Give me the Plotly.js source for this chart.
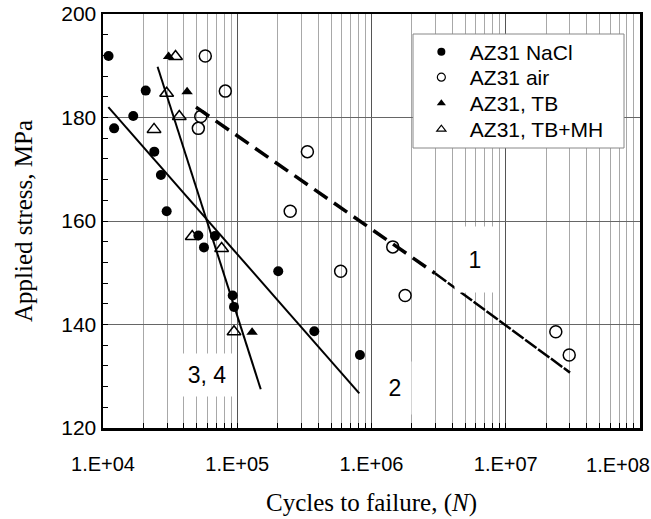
<!DOCTYPE html>
<html>
<head>
<meta charset="utf-8">
<script src="https://cdn.plot.ly/plotly-3.0.1.min.js"></script>
<style>html,body{margin:0;padding:0;background:#fff;}#chart{width:651px;height:519px;}</style>
</head>
<body>
<div id="chart"></div>
<script>
// ---- Data ----
// AZ31 NaCl (filled circles)
var naclN = [11000, 12100, 16800, 20800, 24100, 27000, 29800, 51300, 56500, 68200, 92500, 94600, 202000, 375000, 820000];
var naclS = [191.9, 177.9, 180.3, 185.2, 173.4, 168.9, 161.9, 157.2, 154.9, 157.1, 145.6, 143.4, 150.3, 138.7, 134.1];
// AZ31 air (open circles)
var airN = [57800, 81500, 53500, 51300, 333000, 248000, 1440000, 589000, 1780000, 23600000, 29700000];
var airS = [191.9, 185.1, 180.2, 177.9, 173.4, 161.9, 155.0, 150.3, 145.6, 138.6, 134.1];
// AZ31, TB (filled triangles)
var tbN = [30800, 42300, 129000];
var tbS = [191.8, 185.0, 138.5];
// AZ31, TB+MH (open triangles)
var tbmhN = [34700, 29800, 37000, 24000, 46200, 76500, 94600];
var tbmhS = [191.8, 184.7, 180.2, 177.7, 157.0, 154.7, 138.6];
// Fitted lines
var line1aN = [49300, 2970000];
var line1aS = [182.0, 149.9];
var line1bN = [2970000, 30100000];
var line1bS = [149.9, 130.7];
var line2N = [10965, 811000];
var line2S = [182.0, 126.7];
var line34N = [25500, 149600];
var line34S = [189.8, 127.5];
// Series names
var seriesNames = ['AZ31 NaCl', 'AZ31 air', 'AZ31, TB', 'AZ31, TB+MH'];
// Axis tick labels
var xTickVals = [1e4, 1e5, 1e6, 1e7];
var xTickText = ['1.E+04', '1.E+05', '1.E+06', '1.E+07'];
var xLastTickVal = [1e8];
var xLastTickText = ['1.E+08'];
var yTickVals = [120, 140, 160, 180, 200];
// Line labels
var lineLabels = ['1', '2', '3, 4'];
var lineLabelN = [5900000, 1500000, 59200];
var lineLabelS = [152.5, 127.7, 130.2];

var minorVals = [];
for (var d = 4; d < 8; d++) {
  for (var k = 2; k <= 9; k++) minorVals.push(k * Math.pow(10, d));
}

var sans = 'Liberation Sans, Arial, sans-serif';
var serif = 'Liberation Serif, Times New Roman, serif';

var lineStyle = {color: '#000', width: 2};
var legendSyms = [
  {symbol: 'circle', size: 8, color: '#000'},
  {symbol: 'circle-open', size: 8, color: '#000', line: {width: 1.2}},
  {symbol: 'triangle-up', size: 8, color: '#000'},
  {symbol: 'triangle-up-open', size: 8, color: '#000', line: {width: 1.2}}
];
var legendIds = ['legend', 'legend2', 'legend3', 'legend4'];

var traces = [
  {x: line2N, y: line2S, mode: 'lines', line: lineStyle, showlegend: false, hoverinfo: 'skip'},
  {x: line34N, y: line34S, mode: 'lines', line: lineStyle, showlegend: false, hoverinfo: 'skip'},
  {x: line1aN, y: line1aS, mode: 'lines', line: {color: '#000', width: 3.5, dash: '16px,8px'}, showlegend: false, hoverinfo: 'skip'},
  {x: line1bN, y: line1bS, mode: 'lines', line: {color: '#000', width: 2.5, dash: '14px,2px'}, showlegend: false, hoverinfo: 'skip'},
  {x: naclN, y: naclS, mode: 'markers', name: seriesNames[0], marker: {symbol: 'circle', size: 10, color: '#000'}, showlegend: false},
  {x: airN, y: airS, mode: 'markers', name: seriesNames[1], marker: {symbol: 'circle-open', size: 12, color: '#000', line: {width: 1.5}}, showlegend: false},
  {x: tbN, y: tbS, mode: 'markers', name: seriesNames[2], marker: {symbol: 'triangle-up', size: 10, color: '#000'}, showlegend: false},
  {x: tbmhN, y: tbmhS, mode: 'markers', name: seriesNames[3], marker: {symbol: 'triangle-up-open', size: 12, color: '#000', line: {width: 1.5}}, showlegend: false},
  // invisible trace so the overlay axis carrying the last tick label is drawn
  {x: [null], y: [null], xaxis: 'x2', mode: 'markers', showlegend: false, hoverinfo: 'skip'}
];
// legend entries (one small legend per entry so that spacing matches)
seriesNames.forEach(function (nm, i) {
  traces.push({x: [null], y: [null], mode: 'markers', name: nm, marker: legendSyms[i], legend: legendIds[i], showlegend: true});
});

var boxW = [38, 30, 50];
var boxH = [63, 50, 40];
var annotations = lineLabels.map(function (t, i) {
  return {
    x: Math.log10(lineLabelN[i]), y: lineLabelS[i], xref: 'x', yref: 'y',
    text: t, showarrow: false, bgcolor: '#fff', width: boxW[i], height: boxH[i],
    font: {family: sans, size: 23, color: '#000'}
  };
});

// legend layout: plot area pixels 103..640 (x), 14..428 (y)
var entryY = [52, 77.5, 103.5, 129.5];
function py(p) { return (428 - p) / 414; }

var layout = {
  width: 651, height: 519,
  margin: {l: 103, r: 11, t: 14, b: 91},
  paper_bgcolor: '#fff', plot_bgcolor: '#fff',
  font: {family: sans, color: '#000'},
  xaxis: {
    type: 'log', range: [4, 8.00001], autorange: false,
    tickmode: 'array', tickvals: xTickVals, ticktext: xTickText,
    tickfont: {family: sans, size: 20, color: '#000'},
    ticks: 'inside', ticklen: 5, tickcolor: '#000', tickwidth: 1,
    ticklabelstandoff: 16,
    showgrid: true, gridcolor: '#555', gridwidth: 1,
    minor: {tickmode: 'array', tickvals: minorVals, ticks: 'inside', ticklen: 5, tickcolor: '#000', showgrid: true, gridcolor: '#a8a8a8', gridwidth: 1},
    showline: true, linecolor: '#000', linewidth: 2.5, mirror: true,
    zeroline: false,
    title: {text: 'Cycles to failure, (<i>N</i>)', font: {family: serif, size: 25, color: '#000'}, standoff: 20},
    automargin: false
  },
  xaxis2: {
    type: 'log', range: [4, 8.00001], autorange: false, overlaying: 'x', side: 'bottom',
    tickmode: 'array', tickvals: xLastTickVal, ticktext: xLastTickText,
    tickfont: {family: sans, size: 20, color: '#000'},
    ticks: '', ticklabelposition: 'outside left', ticklabelshift: 10, ticklabelstandoff: 23,
    ticklabeloverflow: 'allow',
    showgrid: false, showline: false, zeroline: false, automargin: false
  },
  yaxis: {
    range: [120, 200], autorange: false,
    tickmode: 'array', tickvals: yTickVals,
    tickfont: {family: sans, size: 21, color: '#000'},
    ticks: 'inside', ticklen: 5, tickcolor: '#000', tickwidth: 1,
    showgrid: true, gridcolor: '#666', gridwidth: 1,
    minor: {dtick: 4, ticks: 'inside', ticklen: 5, tickcolor: '#000', showgrid: false},
    showline: true, linecolor: '#000', linewidth: 2.5, mirror: true,
    zeroline: false,
    title: {text: 'Applied stress, MPa', font: {family: serif, size: 25, color: '#000'}, standoff: 22},
    automargin: false
  },
  showlegend: true,
  shapes: [{
    type: 'rect', xref: 'paper', yref: 'paper', layer: 'above',
    x0: (413 - 103) / 537, x1: (624 - 103) / 537, y0: py(148), y1: py(34),
    line: {color: '#888', width: 1}, fillcolor: '#fff'
  }],
  annotations: annotations
};
legendIds.forEach(function (id, i) {
  layout[id] = {
    x: 0.577, y: py(entryY[i]), xanchor: 'left', yanchor: 'middle',
    bgcolor: 'rgba(0,0,0,0)', borderwidth: 0,
    font: {family: sans, size: 21, color: '#000'},
    itemwidth: 47
  };
});

Plotly.newPlot('chart', traces, layout, {displayModeBar: false, staticPlot: true});
</script>
</body>
</html>
